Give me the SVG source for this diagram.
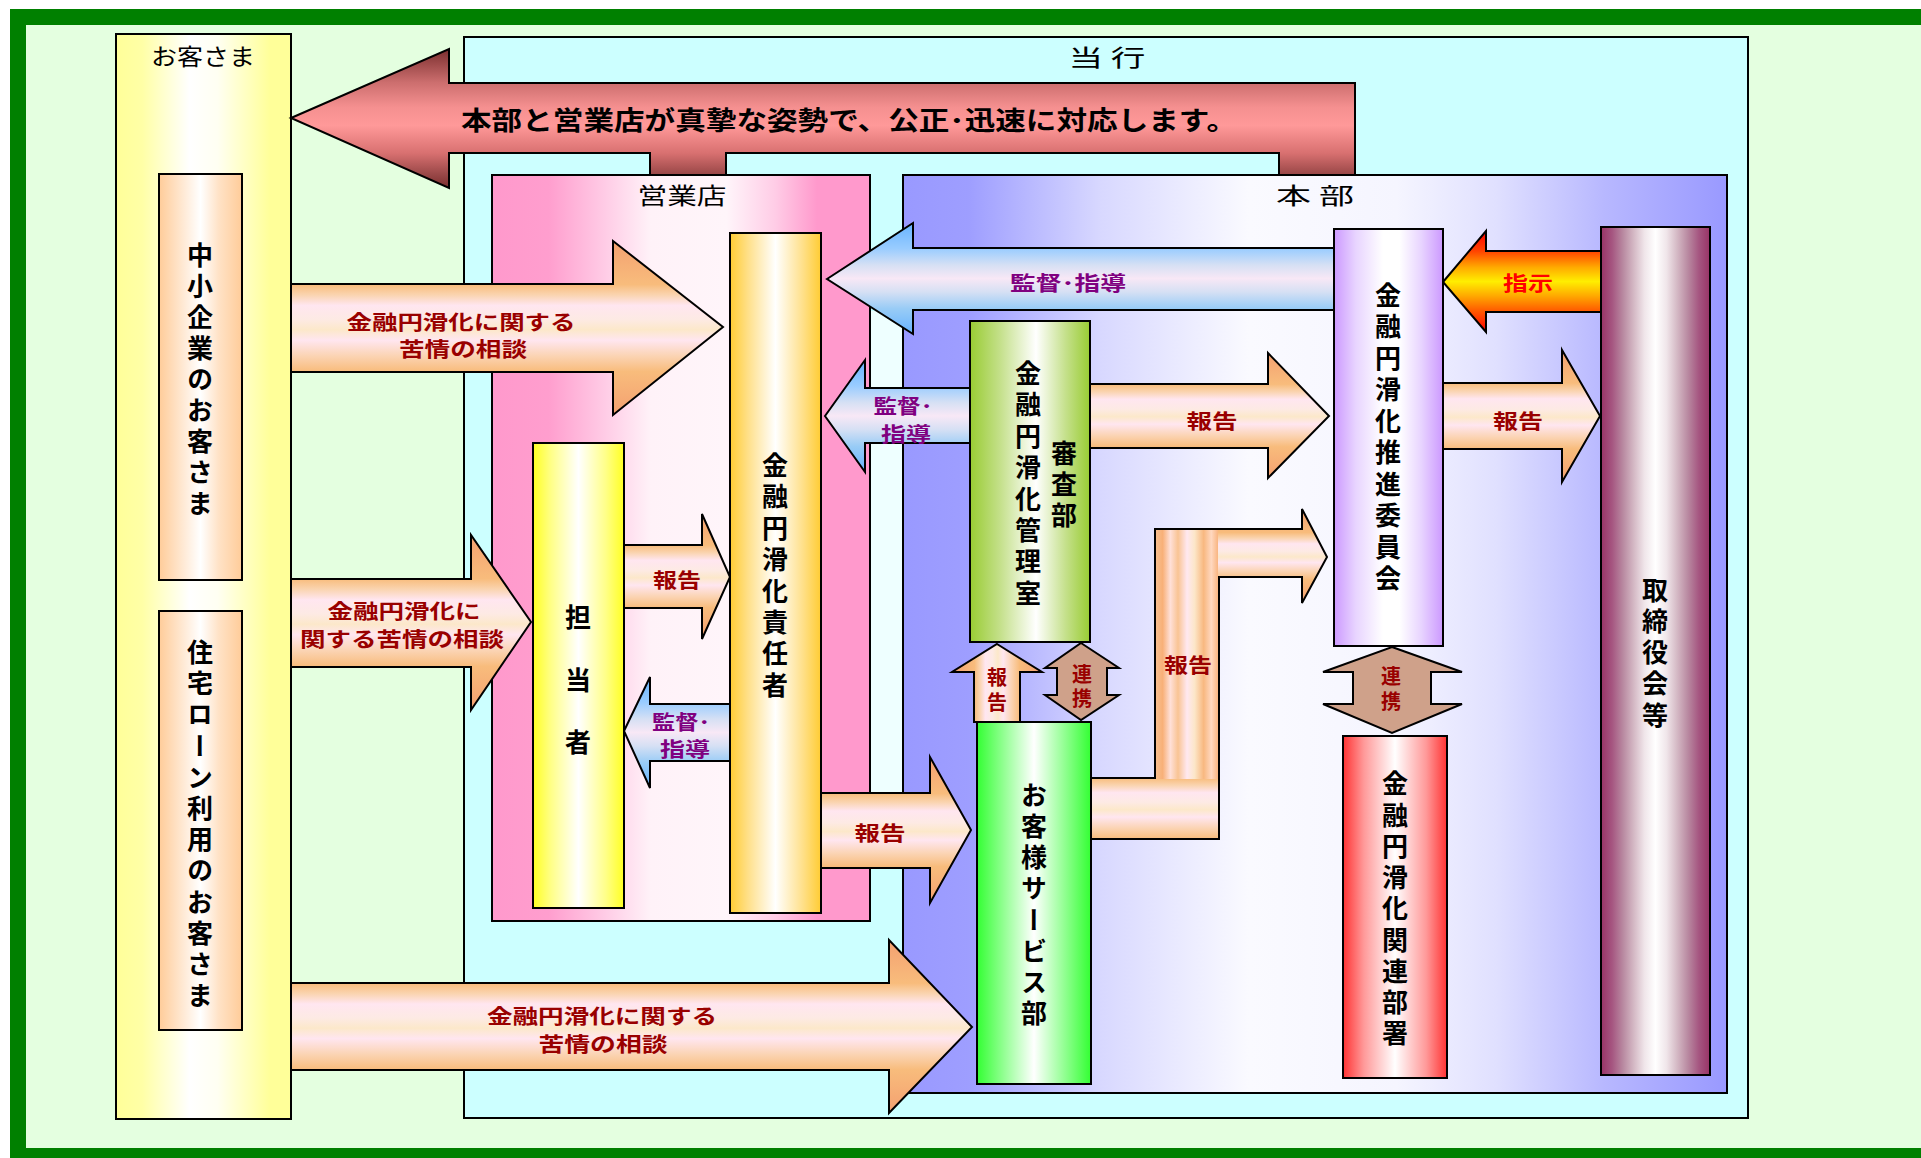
<svg xmlns="http://www.w3.org/2000/svg" width="1921" height="1158" viewBox="0 0 1921 1158">
<defs>
<style>
.box{stroke:#000;stroke-width:2}
.ar{stroke:#000;stroke-width:2;stroke-linejoin:miter}
.ttl{font-family:"Noto Sans CJK JP",sans-serif;font-size:23px;fill:#000;text-anchor:middle;dominant-baseline:central}
.v{font-family:"Noto Sans CJK JP",sans-serif;font-size:26px;font-weight:bold;fill:#000;writing-mode:vertical-rl;text-anchor:middle;dominant-baseline:central}
.lbl{font-family:"Noto Sans CJK JP",sans-serif;font-size:20px;font-weight:bold;fill:#990000;text-anchor:middle;dominant-baseline:central}
.lblv{font-family:"Noto Sans CJK JP",sans-serif;font-size:20px;font-weight:bold;fill:#990000;writing-mode:vertical-rl;text-anchor:middle;dominant-baseline:central}
.pur{fill:#800080}
.big{font-family:"Noto Sans CJK JP",sans-serif;font-size:26px;font-weight:bold;fill:#000;text-anchor:middle;dominant-baseline:central}
</style>
<linearGradient id="gCust" x1="0" y1="0" x2="1" y2="0"><stop offset="0" stop-color="#FFFF99"/><stop offset="0.15" stop-color="#FFFFA6"/><stop offset="0.42" stop-color="#FFFFFF"/><stop offset="0.58" stop-color="#FFFFF2"/><stop offset="0.88" stop-color="#FFFF99"/><stop offset="1" stop-color="#FFFF99"/></linearGradient>
<linearGradient id="gPeach" x1="0" y1="0" x2="1" y2="0"><stop offset="0" stop-color="#FFCC99"/><stop offset="0.3" stop-color="#FFEAD6"/><stop offset="0.5" stop-color="#FFFFFF"/><stop offset="0.72" stop-color="#FFE2C6"/><stop offset="1" stop-color="#FFCC99"/></linearGradient>
<linearGradient id="gPink" x1="0" y1="0" x2="1" y2="0"><stop offset="0" stop-color="#FF99CC"/><stop offset="0.15" stop-color="#FF9ECE"/><stop offset="0.3" stop-color="#FFCCE6"/><stop offset="0.42" stop-color="#FFF2F8"/><stop offset="0.62" stop-color="#FFF5FA"/><stop offset="0.75" stop-color="#FFCCE6"/><stop offset="0.86" stop-color="#FF99CC"/><stop offset="1" stop-color="#FF99CC"/></linearGradient>
<linearGradient id="gHonbu" x1="0" y1="0" x2="1" y2="0"><stop offset="0" stop-color="#9999FF"/><stop offset="0.08" stop-color="#9E9EFF"/><stop offset="0.24" stop-color="#D8D8FF"/><stop offset="0.42" stop-color="#FAFAFF"/><stop offset="0.6" stop-color="#F5F5FF"/><stop offset="0.72" stop-color="#E0E0FF"/><stop offset="0.85" stop-color="#B8B8FF"/><stop offset="1" stop-color="#9999FF"/></linearGradient>
<linearGradient id="gYellow" x1="0" y1="0" x2="1" y2="0"><stop offset="0" stop-color="#FFFF22"/><stop offset="0.2" stop-color="#FFFF88"/><stop offset="0.5" stop-color="#FFFFFF"/><stop offset="0.8" stop-color="#FFFF88"/><stop offset="1" stop-color="#FFFF22"/></linearGradient>
<linearGradient id="gGold" x1="0" y1="0" x2="1" y2="0"><stop offset="0" stop-color="#FFCC33"/><stop offset="0.2" stop-color="#FFE08A"/><stop offset="0.5" stop-color="#FFFFFF"/><stop offset="0.8" stop-color="#FFE08A"/><stop offset="1" stop-color="#FFCC33"/></linearGradient>
<linearGradient id="gOlive" x1="0" y1="0" x2="1" y2="0"><stop offset="0" stop-color="#99CC33"/><stop offset="0.25" stop-color="#C4E08A"/><stop offset="0.55" stop-color="#FFFFFF"/><stop offset="0.8" stop-color="#C4E08A"/><stop offset="1" stop-color="#99CC33"/></linearGradient>
<linearGradient id="gLime" x1="0" y1="0" x2="1" y2="0"><stop offset="0" stop-color="#33FF33"/><stop offset="0.25" stop-color="#99FF99"/><stop offset="0.5" stop-color="#FFFFFF"/><stop offset="0.75" stop-color="#99FF99"/><stop offset="1" stop-color="#33FF33"/></linearGradient>
<linearGradient id="gPurple" x1="0" y1="0" x2="1" y2="0"><stop offset="0" stop-color="#CC99FF"/><stop offset="0.2" stop-color="#E8D4FF"/><stop offset="0.45" stop-color="#FFFFFF"/><stop offset="0.6" stop-color="#FFFFFF"/><stop offset="0.8" stop-color="#E8D4FF"/><stop offset="1" stop-color="#CC99FF"/></linearGradient>
<linearGradient id="gRed" x1="0" y1="0" x2="1" y2="0"><stop offset="0" stop-color="#FF3333"/><stop offset="0.2" stop-color="#FF9999"/><stop offset="0.5" stop-color="#FFFFFF"/><stop offset="0.8" stop-color="#FF9999"/><stop offset="1" stop-color="#FF3333"/></linearGradient>
<linearGradient id="gMauve" x1="0" y1="0" x2="1" y2="0"><stop offset="0" stop-color="#993366"/><stop offset="0.1" stop-color="#A55580"/><stop offset="0.2" stop-color="#B888A0"/><stop offset="0.3" stop-color="#D4B8C4"/><stop offset="0.4" stop-color="#F0E6EA"/><stop offset="0.5" stop-color="#FFFFFF"/><stop offset="0.6" stop-color="#F0E6EA"/><stop offset="0.7" stop-color="#D4B8C4"/><stop offset="0.8" stop-color="#B888A0"/><stop offset="0.9" stop-color="#A55580"/><stop offset="1" stop-color="#993366"/></linearGradient>
<linearGradient id="gOrV" x1="0" y1="0" x2="0" y2="1"><stop offset="0" stop-color="#F4A070"/><stop offset="0.25" stop-color="#F8BC7C"/><stop offset="0.31" stop-color="#FAD4B0"/><stop offset="0.37" stop-color="#FFE6F0"/><stop offset="0.45" stop-color="#FDEAE4"/><stop offset="0.51" stop-color="#FCE8CA"/><stop offset="0.57" stop-color="#FFE6F0"/><stop offset="0.66" stop-color="#FBD4B4"/><stop offset="0.75" stop-color="#F8BC7C"/><stop offset="1" stop-color="#F4A070"/></linearGradient>
<linearGradient id="gOrH" x1="0" y1="0" x2="1" y2="0"><stop offset="0" stop-color="#F4A070"/><stop offset="0.25" stop-color="#F8BC7C"/><stop offset="0.31" stop-color="#FAD4B0"/><stop offset="0.37" stop-color="#FFE6F0"/><stop offset="0.45" stop-color="#FDEAE4"/><stop offset="0.51" stop-color="#FCE8CA"/><stop offset="0.57" stop-color="#FFE6F0"/><stop offset="0.66" stop-color="#FBD4B4"/><stop offset="0.75" stop-color="#F8BC7C"/><stop offset="1" stop-color="#F4A070"/></linearGradient>
<linearGradient id="gOrBodyV" x1="0" y1="0" x2="0" y2="1"><stop offset="0" stop-color="#F8BC7C"/><stop offset="0.12" stop-color="#FAD4B0"/><stop offset="0.24" stop-color="#FFE6F0"/><stop offset="0.4" stop-color="#FDEAE4"/><stop offset="0.52" stop-color="#FCE8CA"/><stop offset="0.64" stop-color="#FFE6F0"/><stop offset="0.82" stop-color="#FBD4B4"/><stop offset="1" stop-color="#F8BC7C"/></linearGradient>
<linearGradient id="gOrBodyH" x1="0" y1="0" x2="1" y2="0"><stop offset="0" stop-color="#F8C090"/><stop offset="0.12" stop-color="#F8B078"/><stop offset="0.24" stop-color="#FFE0D8"/><stop offset="0.36" stop-color="#F9C494"/><stop offset="0.5" stop-color="#FFE8F0"/><stop offset="0.62" stop-color="#FCE6C8"/><stop offset="0.76" stop-color="#F8B880"/><stop offset="0.88" stop-color="#FFD8C0"/><stop offset="1" stop-color="#F8B078"/></linearGradient>
<linearGradient id="gBlueV" x1="0" y1="0" x2="0" y2="1"><stop offset="0" stop-color="#66B3FF"/><stop offset="0.23" stop-color="#99CCFF"/><stop offset="0.38" stop-color="#D6E0F4"/><stop offset="0.5" stop-color="#F8E8F6"/><stop offset="0.62" stop-color="#D6E0F4"/><stop offset="0.77" stop-color="#99CCF6"/><stop offset="1" stop-color="#66B3FF"/></linearGradient>
<linearGradient id="gRedV" x1="0" y1="0" x2="0" y2="1"><stop offset="0" stop-color="#7A2E2E"/><stop offset="0.24" stop-color="#CC6E6E"/><stop offset="0.42" stop-color="#F59090"/><stop offset="0.55" stop-color="#FF9999"/><stop offset="0.75" stop-color="#D87070"/><stop offset="0.9" stop-color="#9A4848"/><stop offset="1" stop-color="#7A2E2E"/></linearGradient>
<linearGradient id="gFireV" x1="0" y1="0" x2="0" y2="1"><stop offset="0" stop-color="#FF0000"/><stop offset="0.2" stop-color="#FF4400"/><stop offset="0.36" stop-color="#FFAA00"/><stop offset="0.5" stop-color="#FFEE00"/><stop offset="0.64" stop-color="#FFAA00"/><stop offset="0.8" stop-color="#FF5500"/><stop offset="1" stop-color="#FF0000"/></linearGradient>
</defs>

<g id="frame">
<rect x="18" y="17" width="1960" height="1139" fill="#E4FFE0" stroke="#008000" stroke-width="16"/>
</g>

<g id="containers">
<g id="okyakusama-box">
<rect class="box" x="116" y="34" width="175" height="1085" fill="url(#gCust)"/>
<text class="ttl" x="203" y="55" textLength="104" lengthAdjust="spacingAndGlyphs">お客さま</text>
</g>
<g id="touko-box">
<rect class="box" x="464" y="37" width="1284" height="1081" fill="#CCFFFF"/>
<text class="ttl" x="1107" y="56" textLength="77" lengthAdjust="spacingAndGlyphs">当 行</text>
</g>
</g>

<g id="connectors">
<g id="arrow-main">
<path class="ar" d="M291,118 L449,49 V83 H1355 V175 H1279 V153 H726 V175 H650 V153 H449 V188 Z" fill="url(#gRedV)"/>
</g>
</g>

<g id="containers2">
<g id="eigyoten-box">
<rect class="box" x="492" y="175" width="378" height="746" fill="url(#gPink)"/>
<text class="ttl" x="682" y="194" textLength="89" lengthAdjust="spacingAndGlyphs">営業店</text>
</g>
<g id="honbu-box">
<rect class="box" x="903" y="175" width="824" height="918" fill="url(#gHonbu)"/>
<text class="ttl" x="1315" y="194" textLength="78" lengthAdjust="spacingAndGlyphs">本 部</text>
</g>
<rect x="871" y="311" width="31" height="482" fill="#EEFFFF"/>
</g>

<text class="big" x="849" y="118" textLength="776" lengthAdjust="spacingAndGlyphs">本部と営業店が真摯な姿勢で、公正･迅速に対応します。</text>

<g id="connectors-main">
<g id="a-shiji"><path class="ar" d="M1443,282 L1486,231 V251 H1601 V312 H1486 V332 Z" fill="url(#gFireV)"/>
<text class="lbl" x="1528" y="282" textLength="50" lengthAdjust="spacingAndGlyphs" style="fill:#FF0000">指示</text></g>
<g id="a-kantoku-big"><path class="ar" d="M827,279 L913,223 V248 H1334 V310 H913 V334 Z" fill="url(#gBlueV)"/>
<text class="lbl pur" x="1068" y="282" textLength="116" lengthAdjust="spacingAndGlyphs">監督･指導</text></g>
<g id="a-soudan1"><path class="ar" d="M291,284 H613 V241 L723,327 L613,415 V372 H291 Z" fill="url(#gOrV)"/>
<text class="lbl" x="461" y="321" textLength="229" lengthAdjust="spacingAndGlyphs">金融円滑化に関する</text>
<text class="lbl" x="463" y="348" textLength="128" lengthAdjust="spacingAndGlyphs">苦情の相談</text></g>
<g id="a-soudan2"><path class="ar" d="M291,579 H471 V535 L531,622 L471,710 V667 H291 Z" fill="url(#gOrV)"/>
<text class="lbl" x="404" y="610" textLength="153" lengthAdjust="spacingAndGlyphs">金融円滑化に</text>
<text class="lbl" x="402" y="638" textLength="204" lengthAdjust="spacingAndGlyphs">関する苦情の相談</text></g>
<g id="a-soudan3"><path class="ar" d="M291,983 H889 V940 L972,1027 L889,1113 V1070 H291 Z" fill="url(#gOrV)"/>
<text class="lbl" x="602" y="1015" textLength="230" lengthAdjust="spacingAndGlyphs">金融円滑化に関する</text>
<text class="lbl" x="603" y="1043" textLength="129" lengthAdjust="spacingAndGlyphs">苦情の相談</text></g>
<g id="a-houkoku-tantou"><path class="ar" d="M624,545 H702 V514 L730,577 L702,639 V608 H624 Z" fill="url(#gOrV)"/>
<text class="lbl" x="677" y="579" textLength="48" lengthAdjust="spacingAndGlyphs">報告</text></g>
<g id="a-kantoku-tantou"><path class="ar" d="M624,731 L650,677 V704 H730 V761 H650 V788 Z" fill="url(#gBlueV)"/>
<text class="lbl pur" x="681" y="721" textLength="58" lengthAdjust="spacingAndGlyphs">監督･</text>
<text class="lbl pur" x="685" y="748" textLength="50" lengthAdjust="spacingAndGlyphs">指導</text></g>
<g id="a-kantoku-kanri"><path class="ar" d="M825,416 L865,360 V388 H970 V443 H865 V472 Z" fill="url(#gBlueV)"/>
<text class="lbl pur" x="903" y="405" textLength="59" lengthAdjust="spacingAndGlyphs">監督･</text>
<text class="lbl pur" x="906" y="433" textLength="50" lengthAdjust="spacingAndGlyphs">指導</text></g>
<g id="a-houkoku-kanri"><path class="ar" d="M1090,384 H1268 V353 L1329,416 L1268,478 V448 H1090 Z" fill="url(#gOrV)"/>
<text class="lbl" x="1212" y="420" textLength="51" lengthAdjust="spacingAndGlyphs">報告</text></g>
<g id="a-houkoku-iinkai"><path class="ar" d="M1443,383 H1562 V350 L1600,416 L1562,482 V449 H1443 Z" fill="url(#gOrV)"/>
<text class="lbl" x="1518" y="420" textLength="50" lengthAdjust="spacingAndGlyphs">報告</text></g>
<g id="a-houkoku-sekinin"><path class="ar" d="M821,793 H930 V757 L971,830 L930,903 V868 H821 Z" fill="url(#gOrV)"/>
<text class="lbl" x="880" y="832" textLength="51" lengthAdjust="spacingAndGlyphs">報告</text></g>
<g id="a-houkoku-L">
<rect x="1091" y="778" width="128" height="61" fill="url(#gOrBodyV)"/>
<rect x="1155" y="529" width="64" height="250" fill="url(#gOrBodyH)"/>
<path d="M1218,529 H1302 V509 L1327,557 L1302,603 V577 H1218 Z" fill="url(#gOrV)"/>
<path class="ar" fill="none" d="M1091,778 H1155 V529 H1302 V509 L1327,557 L1302,603 V577 H1219 V839 H1091"/>
<text class="lbl" x="1188" y="664" textLength="48" lengthAdjust="spacingAndGlyphs">報告</text></g>
<g id="a-houkoku-up"><path class="ar" d="M997,644 L1042,672 H1020 V722 H974 V672 H952 Z" fill="url(#gOrH)"/>
<text class="lblv" x="997" y="677 702">報告</text></g>
<g id="a-renkei1"><path class="ar" d="M1081,643 L1119,668 H1107 V695 H1119 L1081,720 L1045,695 H1057 V668 H1045 Z" fill="#CFA18A"/>
<text class="lblv" x="1082" y="674 698">連携</text></g>
<g id="a-renkei2"><path class="ar" d="M1392,647 L1462,672 H1431 V704 H1462 L1392,733 L1323,704 H1353 V672 H1323 Z" fill="#CFA18A"/>
<text class="lblv" x="1391" y="676 701">連携</text></g>
</g>

<g id="nodes">
<g id="n-chusho"><rect class="box" x="159" y="174" width="83" height="406" fill="url(#gPeach)"/>
<text class="v" x="200" y="255 286 317 348 379 410 441 472 503">中小企業のお客さま</text></g>
<g id="n-jutaku"><rect class="box" x="159" y="611" width="83" height="419" fill="url(#gPeach)"/>
<text class="v" x="200" y="652 683 714 746 777 808 839 870 902 933 964 995">住宅ローン利用のお客さま</text></g>
<g id="n-tantou"><rect class="box" x="533" y="443" width="91" height="465" fill="url(#gYellow)"/>
<text class="v" x="578" y="617 680 742">担当者</text></g>
<g id="n-sekinin"><rect class="box" x="730" y="233" width="91" height="680" fill="url(#gGold)"/>
<text class="v" x="775" y="465 496 528 559 591 622 653 685">金融円滑化責任者</text></g>
<g id="n-kanri"><rect class="box" x="970" y="321" width="120" height="321" fill="url(#gOlive)"/>
<text class="v" x="1064" y="453 484 515">審査部</text>
<text class="v" x="1028" y="373 404 436 467 499 530 561 593">金融円滑化管理室</text></g>
<g id="n-service"><rect class="box" x="977" y="722" width="114" height="362" fill="url(#gLime)"/>
<text class="v" x="1034" y="795 826 857 888 920 951 982 1013">お客様サービス部</text></g>
<g id="n-iinkai"><rect class="box" x="1334" y="229" width="109" height="417" fill="url(#gPurple)"/>
<text class="v" x="1388" y="295 326 358 389 421 452 484 515 547 578">金融円滑化推進委員会</text></g>
<g id="n-kanren"><rect class="box" x="1343" y="736" width="104" height="342" fill="url(#gRed)"/>
<text class="v" x="1395" y="783 815 846 877 908 940 971 1002 1033">金融円滑化関連部署</text></g>
<g id="n-torishimari"><rect class="box" x="1601" y="227" width="109" height="848" fill="url(#gMauve)"/>
<text class="v" x="1655" y="590 621 652 683 715">取締役会等</text></g>
</g>
</svg>
